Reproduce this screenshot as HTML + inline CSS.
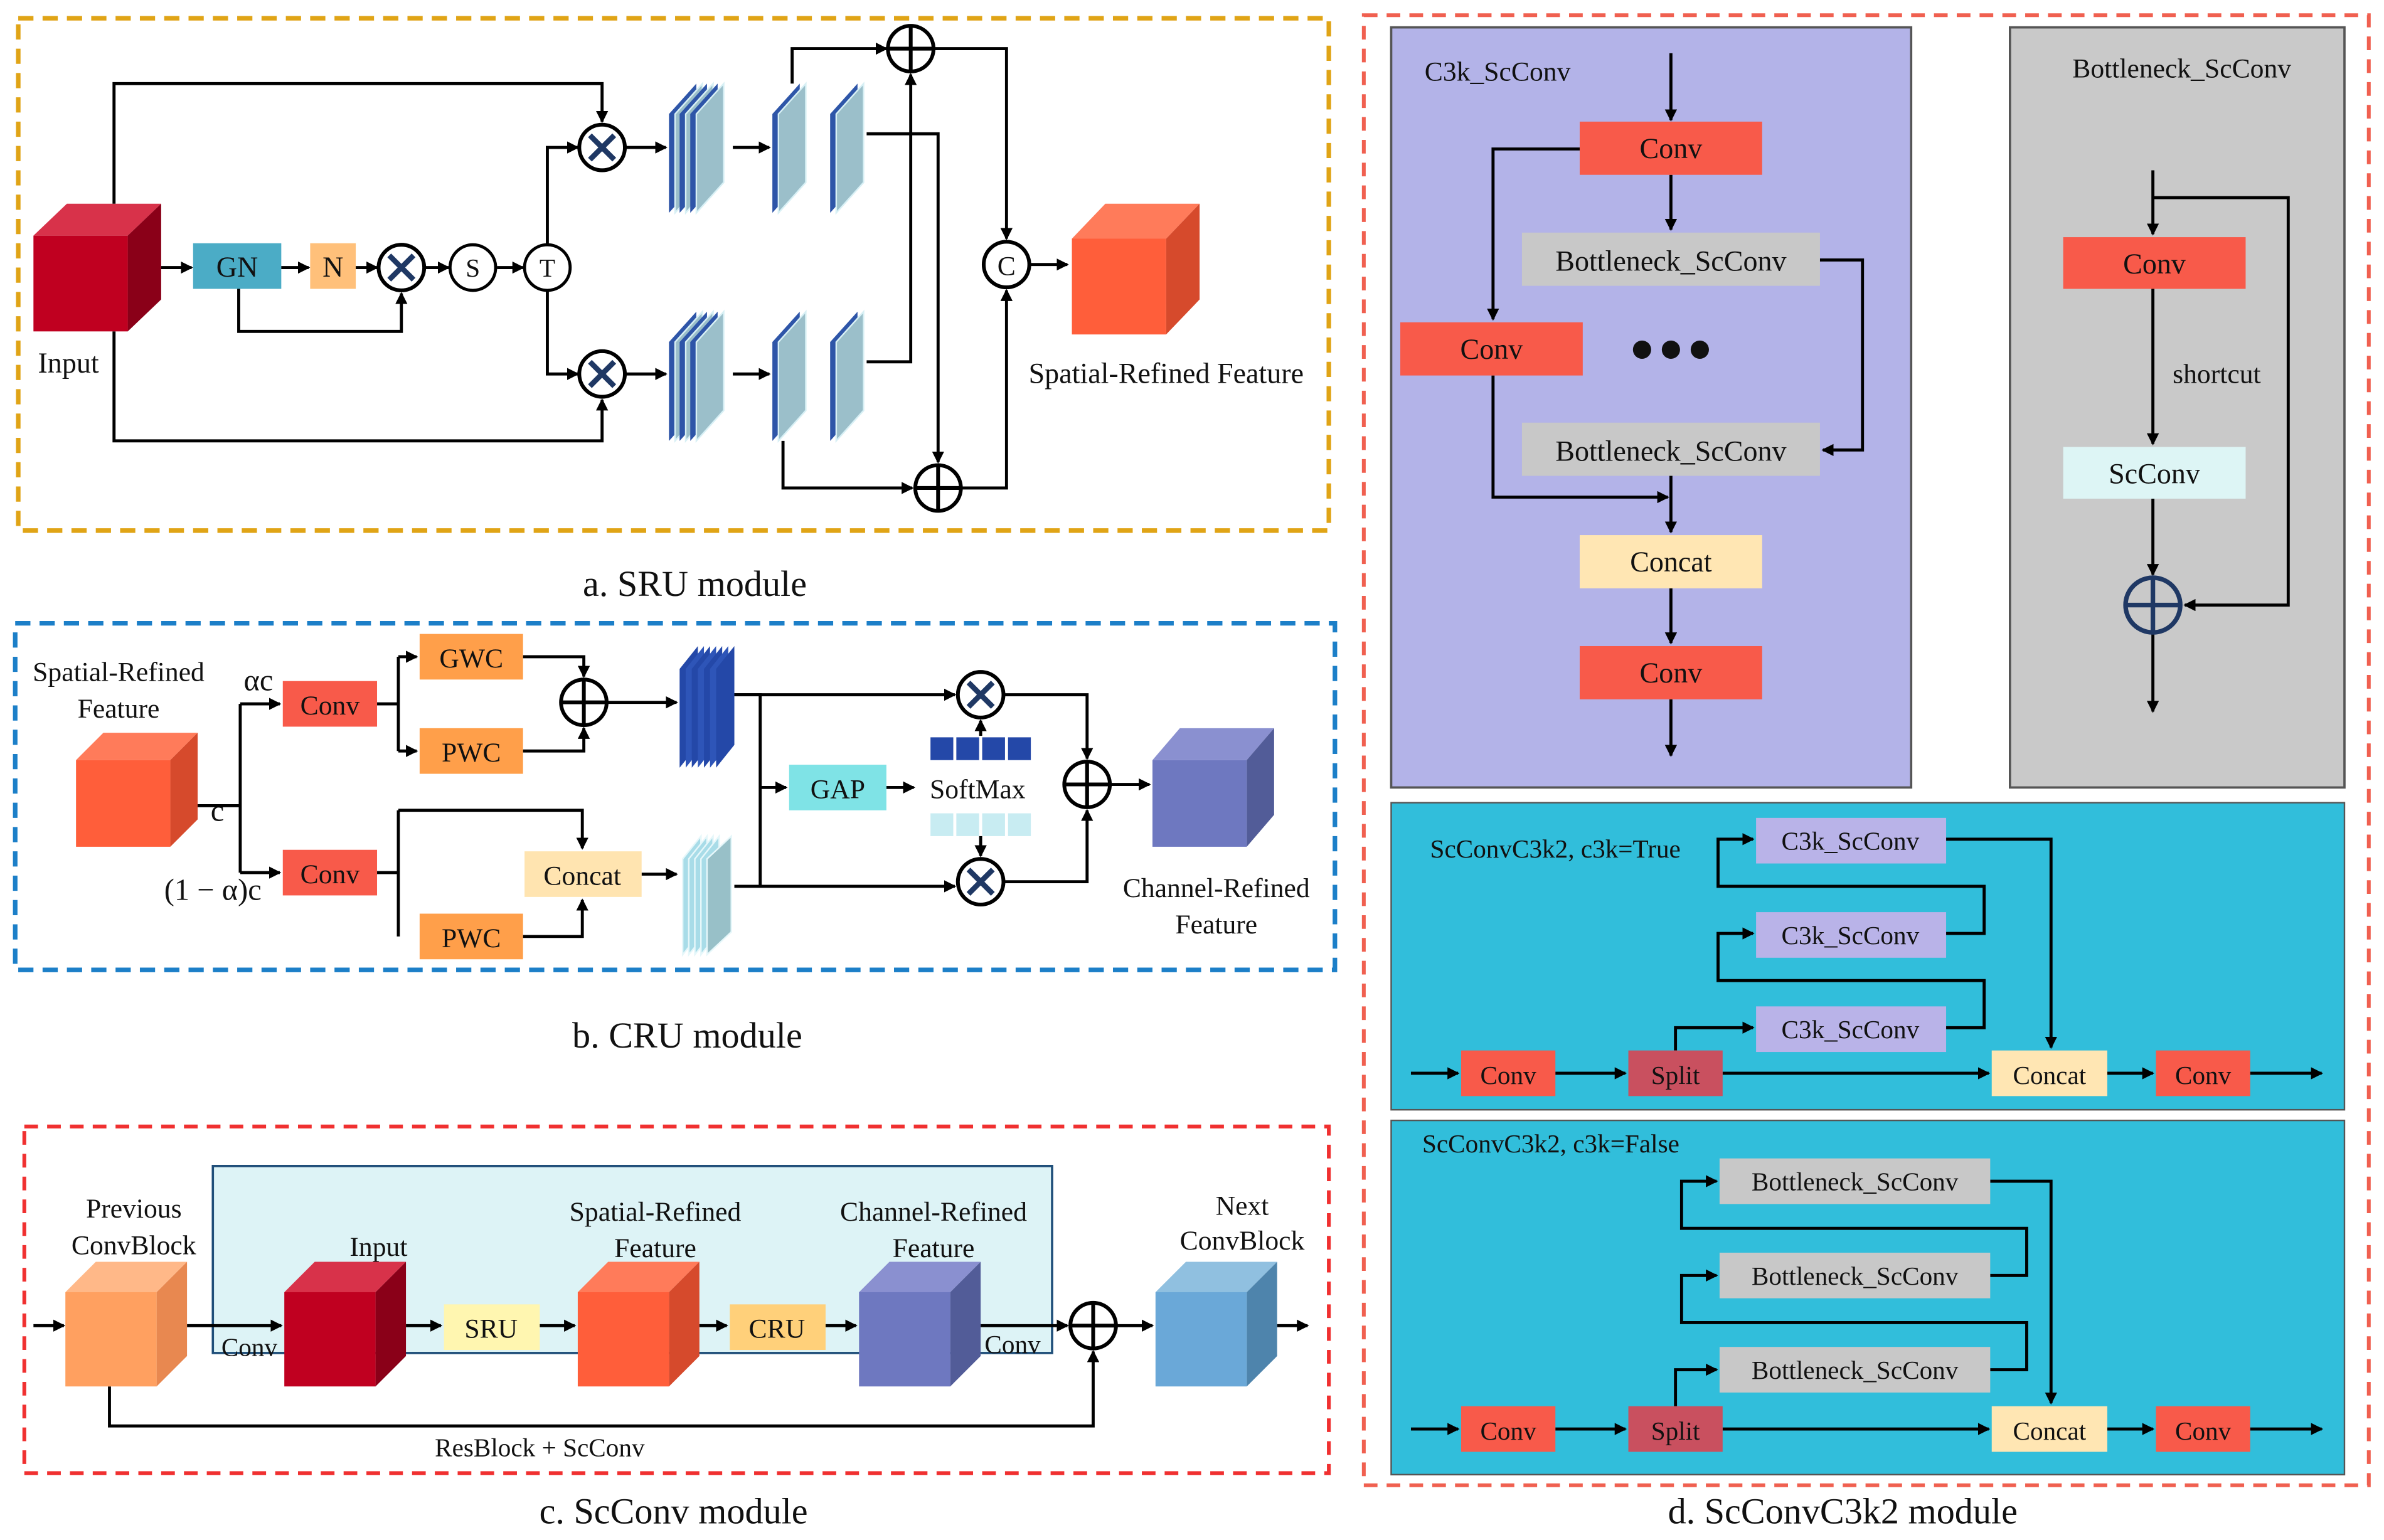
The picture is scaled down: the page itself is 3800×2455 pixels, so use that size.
<!DOCTYPE html>
<html><head><meta charset="utf-8"><style>
html,body{margin:0;padding:0;background:#fff}
svg{display:block}
text{font-family:"Liberation Serif",serif;fill:#111}
</style></head><body>
<svg width="3800" height="2455" viewBox="0 0 1568 1013" xmlns="http://www.w3.org/2000/svg">
<defs>
<marker id="a" markerWidth="8" markerHeight="8" refX="7" refY="4" orient="auto" markerUnits="userSpaceOnUse"><path d="M0,0L8,4L0,8z" fill="#000"/></marker>
<g id="sl"><polygon points="0,20 18,0 18,65 0,85" fill="#2E55A8"/><polygon points="4,20 22,0 22,65 4,85" fill="#9BBFCA" stroke="#D8F0F5" stroke-width="1"/></g>
<g id="sl3"><use href="#sl"/><use href="#sl" x="7"/><use href="#sl" x="14"/></g>
<g id="xc"><circle r="15" fill="#fff" stroke="#000" stroke-width="2.5"/><path d="M-8,-8L8,8M8,-8L-8,8" stroke="#1F3864" stroke-width="3.5"/></g>
<g id="pc"><circle r="15" fill="#fff" stroke="#000" stroke-width="2.5"/><path d="M-15,0H15M0,-15V15" stroke="#000" stroke-width="2.5"/></g>
</defs>
<rect x="12" y="12" width="862" height="337" fill="none" stroke="#E0A416" stroke-width="3" stroke-dasharray="10,6"/>
<text x="457" y="392" font-size="24" text-anchor="middle">a. SRU module</text>
<polygon points="22,155 44,134 106,134 84,155" fill="#D8324A"/>
<polygon points="84,155 106,134 106,197 84,218" fill="#8A0018"/>
<rect x="22" y="155" width="62" height="63" fill="#C00020"/>
<text x="45" y="245" font-size="19" text-anchor="middle">Input</text>
<rect x="127" y="160" width="58" height="30" fill="#4BACC6"/><text x="156" y="182" font-size="19" text-anchor="middle">GN</text>
<rect x="204" y="160" width="30" height="30" fill="#FFC07A"/><text x="219" y="182" font-size="19" text-anchor="middle">N</text>
<g stroke="#000" stroke-width="2" fill="none" marker-end="url(#a)">
<path d="M75,134V55H396V80"/>
<path d="M75,218V290H396V263"/>
<path d="M106,176H126"/><path d="M185,176H203"/><path d="M234,176H248"/>
<path d="M157,190V218H264V193"/>
<path d="M279,176H295"/><path d="M327,176H344"/>
<path d="M360,161V97H380"/><path d="M360,191V246H380"/>
<path d="M411,97H438"/><path d="M411,246H438"/>
<path d="M482,97H506"/><path d="M482,246H506"/>
<path d="M521,55V32H583"/>
<path d="M570,88H617V304"/>
<path d="M570,238H599V49"/>
<path d="M515,290V321H600"/>
<path d="M614,32H662V157"/>
<path d="M632,321H662V191"/>
<path d="M677,174H702"/>
</g>
<use href="#xc" x="264" y="176"/>
<circle cx="311" cy="176" r="15" fill="#fff" stroke="#000" stroke-width="2"/><text x="311" y="182" font-size="17" text-anchor="middle">S</text>
<circle cx="360" cy="176" r="15" fill="#fff" stroke="#000" stroke-width="2"/><text x="360" y="182" font-size="17" text-anchor="middle">T</text>
<use href="#xc" x="396" y="97"/><use href="#xc" x="396" y="246"/>
<use href="#sl3" x="440" y="55"/><use href="#sl3" x="440" y="205"/>
<use href="#sl" x="508" y="55"/><use href="#sl" x="546" y="55"/>
<use href="#sl" x="508" y="205"/><use href="#sl" x="546" y="205"/>
<use href="#pc" x="599" y="32"/><use href="#pc" x="617" y="321"/>
<circle cx="662" cy="174" r="15" fill="#fff" stroke="#000" stroke-width="2.5"/><text x="662" y="181" font-size="18" text-anchor="middle">C</text>
<polygon points="705,157 727,134 789,134 767,157" fill="#FF7B5A"/>
<polygon points="767,157 789,134 789,197 767,220" fill="#D64A2C"/>
<rect x="705" y="157" width="62" height="63" fill="#FF5E3A"/>
<text x="767" y="252" font-size="19" text-anchor="middle">Spatial-Refined Feature</text>

<rect x="10" y="410" width="868" height="228" fill="none" stroke="#1C7FC8" stroke-width="3" stroke-dasharray="10,6"/>
<text x="452" y="689" font-size="24" text-anchor="middle">b. CRU  module</text>
<text x="78" y="448" font-size="18" text-anchor="middle">Spatial-Refined</text>
<text x="78" y="472" font-size="18" text-anchor="middle">Feature</text>
<polygon points="50,500 68,482 130,482 112,500" fill="#FF7B5A"/>
<polygon points="112,500 130,482 130,539 112,557" fill="#D64A2C"/>
<rect x="50" y="500" width="62" height="57" fill="#FF5E3A"/>
<text x="170" y="454" font-size="20" text-anchor="middle">αc</text>
<text x="143" y="540" font-size="20" text-anchor="middle">c</text>
<text x="140" y="592" font-size="20" text-anchor="middle">(1 − α)c</text>
<g stroke="#000" stroke-width="2" fill="none">
<path d="M130,530H158M158,463V574"/>
<path d="M248,463H262M262,432V494"/>
<path d="M248,574H262M262,533V616"/>
<path d="M483,457H500V583"/>
</g>
<g stroke="#000" stroke-width="2" fill="none" marker-end="url(#a)">
<path d="M158,463H184"/><path d="M158,574H184"/>
<path d="M262,432H274"/><path d="M262,494H274"/>
<path d="M344,432H384V445"/><path d="M344,494H384V479"/>
<path d="M399,462H445"/>
<path d="M262,533H383V558"/>
<path d="M344,616H383V592"/>
<path d="M422,575H445"/>
<path d="M483,457H628"/><path d="M483,583H628"/>
<path d="M500,518H517"/><path d="M583,518H601"/>
<path d="M645,484V474"/><path d="M645,550V563"/>
<path d="M660,457H715V499"/><path d="M660,580H715V533"/>
<path d="M730,516H756"/>
</g>
<rect x="186" y="448" width="62" height="30" fill="#F85A4A"/><text x="217" y="470" font-size="18" text-anchor="middle">Conv</text>
<rect x="186" y="559" width="62" height="30" fill="#F85A4A"/><text x="217" y="581" font-size="18" text-anchor="middle">Conv</text>
<rect x="276" y="417" width="68" height="30" fill="#FF9F4A"/><text x="310" y="439" font-size="18" text-anchor="middle">GWC</text>
<rect x="276" y="479" width="68" height="30" fill="#FF9F4A"/><text x="310" y="501" font-size="18" text-anchor="middle">PWC</text>
<rect x="276" y="601" width="68" height="30" fill="#FF9F4A"/><text x="310" y="623" font-size="18" text-anchor="middle">PWC</text>
<rect x="345" y="560" width="77" height="30" fill="#FFE4B0"/><text x="383" y="582" font-size="18" text-anchor="middle">Concat</text>
<use href="#pc" x="384" y="462"/>
<g fill="#2448A8"><polygon points="447,440 459,425 459,490 447,505"/><polygon points="451,440 463,425 463,490 451,505" fill="#2E55B8"/><polygon points="455,440 467,425 467,490 455,505"/><polygon points="459,440 471,425 471,490 459,505" fill="#2E55B8"/><polygon points="463,440 475,425 475,490 463,505"/><polygon points="467,440 479,425 479,490 467,505" fill="#2E55B8"/><polygon points="471,440 483,425 483,490 471,505"/></g>
<g fill="#A8DCE8" stroke="#E6F7FA" stroke-width="1"><polygon points="449,565 461,550 461,613 449,628"/><polygon points="453,565 465,550 465,613 453,628"/><polygon points="457,565 469,550 469,613 457,628"/><polygon points="461,565 473,550 473,613 461,628"/><polygon points="465,565 481,550 481,613 465,628" fill="#98C0C8"/></g>
<rect x="519" y="503" width="64" height="30" fill="#7FE3E6"/><text x="551" y="525" font-size="18" text-anchor="middle">GAP</text>
<text x="643" y="525" font-size="18" text-anchor="middle">SoftMax</text>
<g fill="#2448A8"><rect x="612" y="485" width="15" height="15"/><rect x="629" y="485" width="15" height="15"/><rect x="646" y="485" width="15" height="15"/><rect x="663" y="485" width="15" height="15"/></g>
<g fill="#C8ECF2"><rect x="612" y="535" width="15" height="15"/><rect x="629" y="535" width="15" height="15"/><rect x="646" y="535" width="15" height="15"/><rect x="663" y="535" width="15" height="15"/></g>
<use href="#xc" x="645" y="457"/><use href="#xc" x="645" y="580"/>
<use href="#pc" x="715" y="516"/>
<polygon points="758,500 776,479 838,479 820,500" fill="#8A90D0"/>
<polygon points="820,500 838,479 838,536 820,557" fill="#525C98"/>
<rect x="758" y="500" width="62" height="57" fill="#6E78C0"/>
<text x="800" y="590" font-size="18" text-anchor="middle">Channel-Refined</text>
<text x="800" y="614" font-size="18" text-anchor="middle">Feature</text>

<rect x="16" y="741" width="858" height="228" fill="none" stroke="#F03030" stroke-width="2.5" stroke-dasharray="9,6"/>
<text x="443" y="1002" font-size="24" text-anchor="middle">c. ScConv  module</text>
<rect x="140" y="767" width="552" height="123" fill="#DDF3F6" stroke="#1F4E79" stroke-width="1.5"/>
<g stroke="#000" stroke-width="2" fill="none" marker-end="url(#a)">
<path d="M22,872H42"/><path d="M123,872H185"/><path d="M267,872H290"/><path d="M355,872H378"/>
<path d="M460,872H478"/><path d="M543,872H563"/><path d="M645,872H702"/><path d="M734,872H758"/><path d="M840,872H860"/>
<path d="M72,912V938H719V889"/>
</g>
<polygon points="43,850 63,830 123,830 103,850" fill="#FFB888"/><polygon points="103,850 123,830 123,892 103,912" fill="#E88850"/><rect x="43" y="850" width="60" height="62" fill="#FFA060"/>
<polygon points="187,850 207,830 267,830 247,850" fill="#D8324A"/><polygon points="247,850 267,830 267,892 247,912" fill="#8A0018"/><rect x="187" y="850" width="60" height="62" fill="#C00020"/>
<polygon points="380,850 400,830 460,830 440,850" fill="#FF7B5A"/><polygon points="440,850 460,830 460,892 440,912" fill="#D64A2C"/><rect x="380" y="850" width="60" height="62" fill="#FF5E3A"/>
<polygon points="565,850 585,830 645,830 625,850" fill="#8A90D0"/><polygon points="625,850 645,830 645,892 625,912" fill="#525C98"/><rect x="565" y="850" width="60" height="62" fill="#6E78C0"/>
<polygon points="760,850 780,830 840,830 820,850" fill="#90C0E0"/><polygon points="820,850 840,830 840,892 820,912" fill="#4E84AC"/><rect x="760" y="850" width="60" height="62" fill="#6AA8D8"/>
<rect x="292" y="858" width="63" height="30" fill="#FFF6B0"/><text x="323" y="880" font-size="18" text-anchor="middle">SRU</text>
<rect x="480" y="858" width="63" height="30" fill="#FFD07A"/><text x="511" y="880" font-size="18" text-anchor="middle">CRU</text>
<use href="#pc" x="719" y="872"/>
<text x="88" y="801" font-size="18" text-anchor="middle">Previous</text><text x="88" y="825" font-size="18" text-anchor="middle">ConvBlock</text>
<text x="249" y="826" font-size="18" text-anchor="middle">Input</text>
<text x="431" y="803" font-size="18" text-anchor="middle">Spatial-Refined</text><text x="431" y="827" font-size="18" text-anchor="middle">Feature</text>
<text x="614" y="803" font-size="18" text-anchor="middle">Channel-Refined</text><text x="614" y="827" font-size="18" text-anchor="middle">Feature</text>
<text x="817" y="799" font-size="18" text-anchor="middle">Next</text><text x="817" y="822" font-size="18" text-anchor="middle">ConvBlock</text>
<text x="164" y="892" font-size="17" text-anchor="middle">Conv</text>
<text x="666" y="890" font-size="17" text-anchor="middle">Conv</text>
<text x="355" y="958" font-size="17" text-anchor="middle">ResBlock + ScConv</text>

<rect x="897" y="10" width="661" height="967" fill="none" stroke="#F06050" stroke-width="2.5" stroke-dasharray="9,6"/>
<text x="1212" y="1002" font-size="24" text-anchor="middle">d. ScConvC3k2  module</text>
<rect x="915" y="18" width="342" height="500" fill="#B3B3E8" stroke="#555" stroke-width="1.5"/>
<rect x="1322" y="18" width="220" height="500" fill="#C9C9C9" stroke="#555" stroke-width="1.5"/>
<text x="985" y="53" font-size="18" text-anchor="middle">C3k_ScConv</text>
<text x="1435" y="51" font-size="18" text-anchor="middle">Bottleneck_ScConv</text>
<g stroke="#000" stroke-width="2" fill="none" marker-end="url(#a)">
<path d="M1099,35V79"/><path d="M1099,115V151"/>
<path d="M1039,98H982V210"/>
<path d="M1197,171H1225V296H1199"/>
<path d="M982,247V327H1097"/>
<path d="M1099,313V350"/><path d="M1099,387V423"/><path d="M1099,460V497"/>
<path d="M1416,112V154"/><path d="M1416,190V292"/><path d="M1416,328V378"/><path d="M1416,416V468"/>
<path d="M1416,130H1505V398H1437"/>
</g>
<rect x="1039" y="80" width="120" height="35" fill="#F85A4A"/><text x="1099" y="104" font-size="19" text-anchor="middle">Conv</text>
<rect x="1001" y="153" width="196" height="35" fill="#C8C8C8"/><text x="1099" y="178" font-size="19" text-anchor="middle">Bottleneck_ScConv</text>
<rect x="921" y="212" width="120" height="35" fill="#F85A4A"/><text x="981" y="236" font-size="19" text-anchor="middle">Conv</text>
<circle cx="1080" cy="230" r="6" fill="#111"/><circle cx="1099" cy="230" r="6" fill="#111"/><circle cx="1118" cy="230" r="6" fill="#111"/>
<rect x="1001" y="278" width="196" height="35" fill="#C8C8C8"/><text x="1099" y="303" font-size="19" text-anchor="middle">Bottleneck_ScConv</text>
<rect x="1039" y="352" width="120" height="35" fill="#FFE6B3"/><text x="1099" y="376" font-size="19" text-anchor="middle">Concat</text>
<rect x="1039" y="425" width="120" height="35" fill="#F85A4A"/><text x="1099" y="449" font-size="19" text-anchor="middle">Conv</text>
<rect x="1357" y="156" width="120" height="34" fill="#F85A4A"/><text x="1417" y="180" font-size="19" text-anchor="middle">Conv</text>
<text x="1458" y="252" font-size="18" text-anchor="middle">shortcut</text>
<rect x="1357" y="294" width="120" height="34" fill="#DDF5F5"/><text x="1417" y="318" font-size="19" text-anchor="middle">ScConv</text>
<circle cx="1416" cy="398" r="18" fill="none" stroke="#1F3864" stroke-width="3"/><path d="M1398,398H1434M1416,380V416" stroke="#1F3864" stroke-width="3"/>

<rect x="915" y="528" width="627" height="202" fill="#31BEDB" stroke="#555" stroke-width="1"/>
<rect x="915" y="737" width="627" height="233" fill="#31BEDB" stroke="#555" stroke-width="1"/>
<text x="1023" y="564" font-size="17" text-anchor="middle">ScConvC3k2, c3k=True</text>
<text x="1020" y="758" font-size="17" text-anchor="middle">ScConvC3k2, c3k=False</text>
<g stroke="#000" stroke-width="2" fill="none" marker-end="url(#a)">
<path d="M928,706H959"/><path d="M1023,706H1069"/><path d="M1133,706H1308"/><path d="M1386,706H1416"/><path d="M1480,706H1527"/>
<path d="M1102,691V676H1153"/>
<path d="M1280,676H1305V645H1130V614H1153"/>
<path d="M1280,614H1305V583H1130V552H1153"/>
<path d="M1280,552H1349V689"/>
<path d="M928,940H959"/><path d="M1023,940H1069"/><path d="M1133,940H1308"/><path d="M1386,940H1416"/><path d="M1480,940H1527"/>
<path d="M1102,925V901H1129"/>
<path d="M1309,901H1333V870H1106V839H1129"/>
<path d="M1309,839H1333V808H1106V777H1129"/>
<path d="M1309,777H1349V923"/>
</g>
<g font-size="17">
<rect x="1155" y="538" width="125" height="30" fill="#B9B3E8"/><text x="1217" y="559" text-anchor="middle">C3k_ScConv</text>
<rect x="1155" y="600" width="125" height="30" fill="#B9B3E8"/><text x="1217" y="621" text-anchor="middle">C3k_ScConv</text>
<rect x="1155" y="662" width="125" height="30" fill="#B9B3E8"/><text x="1217" y="683" text-anchor="middle">C3k_ScConv</text>
<rect x="961" y="691" width="62" height="30" fill="#F85A4A"/><text x="992" y="713" text-anchor="middle">Conv</text>
<rect x="1071" y="691" width="62" height="30" fill="#C9505F"/><text x="1102" y="713" text-anchor="middle">Split</text>
<rect x="1310" y="691" width="76" height="30" fill="#FFE6B3"/><text x="1348" y="713" text-anchor="middle">Concat</text>
<rect x="1418" y="691" width="62" height="30" fill="#F85A4A"/><text x="1449" y="713" text-anchor="middle">Conv</text>
<rect x="1131" y="762" width="178" height="30" fill="#C8C8C8"/><text x="1220" y="783" text-anchor="middle">Bottleneck_ScConv</text>
<rect x="1131" y="824" width="178" height="30" fill="#C8C8C8"/><text x="1220" y="845" text-anchor="middle">Bottleneck_ScConv</text>
<rect x="1131" y="886" width="178" height="30" fill="#C8C8C8"/><text x="1220" y="907" text-anchor="middle">Bottleneck_ScConv</text>
<rect x="961" y="925" width="62" height="30" fill="#F85A4A"/><text x="992" y="947" text-anchor="middle">Conv</text>
<rect x="1071" y="925" width="62" height="30" fill="#C9505F"/><text x="1102" y="947" text-anchor="middle">Split</text>
<rect x="1310" y="925" width="76" height="30" fill="#FFE6B3"/><text x="1348" y="947" text-anchor="middle">Concat</text>
<rect x="1418" y="925" width="62" height="30" fill="#F85A4A"/><text x="1449" y="947" text-anchor="middle">Conv</text>
</g>
</svg>
</body></html>
